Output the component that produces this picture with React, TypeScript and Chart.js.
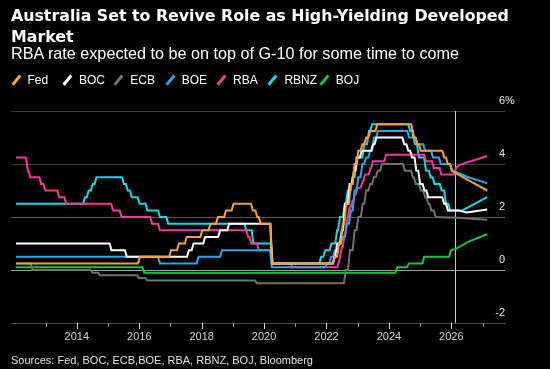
import React, { useEffect, useRef } from "react";
import { Chart, registerables } from "chart.js";

Chart.register(...registerables);

const TITLE_LINE_1 = "Australia Set to Revive Role as High-Yielding Developed";
const TITLE_LINE_2 = "Market";
const SUBTITLE = "RBA rate expected to be on top of G-10 for some time to come";
const SOURCE = "Sources: Fed, BOC, ECB,BOE, RBA, RBNZ, BOJ, Bloomberg";

const SERIES_NAMES = ["Fed", "BOC", "ECB", "BOE", "RBA", "RBNZ", "BOJ"];
const SERIES_COLORS = ["#f7a034", "#ffffff", "#707070", "#2aa6e6", "#ef3a9c", "#1fd3e3", "#1dbf45"];

const X_MIN = 2011.89;
const X_MAX = 2027.72;
const YEAR_TICKS = [2013, 2014, 2015, 2016, 2017, 2018, 2019, 2020, 2021, 2022, 2023, 2024, 2025, 2026, 2027];
const Y_TICKS = [-2, 0, 2, 4, 6];
const Y_TOP_SUFFIX = "%";
const TODAY = 2026.12;

// [date, new rate] at each policy change
const FED_STEPS = [
  [2012.05, 0.25], [2015.96, 0.5], [2016.96, 0.75], [2017.21, 1.0], [2017.46, 1.25], [2017.96, 1.5],
  [2018.22, 1.75], [2018.46, 2.0], [2018.72, 2.25], [2018.96, 2.5], [2019.58, 2.25], [2019.72, 2.0],
  [2019.83, 1.75], [2020.2, 0.25], [2022.21, 0.5], [2022.34, 1.0], [2022.46, 1.75], [2022.57, 2.5],
  [2022.72, 3.25], [2022.84, 4.0], [2022.96, 4.5], [2023.09, 4.75], [2023.21, 5.0], [2023.34, 5.25],
  [2023.57, 5.5], [2024.72, 5.0], [2024.85, 4.75], [2024.96, 4.5], [2025.71, 4.25], [2025.83, 4.0],
  [2025.96, 3.75],
];
const FED_FORECAST = [[2026.1, 3.68], [2026.6, 3.35], [2027.15, 3.0]];

const BOC_STEPS = [
  [2012.05, 1.0], [2015.05, 0.75], [2015.54, 0.5], [2017.53, 0.75], [2017.68, 1.0], [2018.05, 1.25],
  [2018.53, 1.5], [2018.82, 1.75], [2020.2, 0.25], [2022.2, 0.5], [2022.28, 1.0], [2022.43, 1.5],
  [2022.53, 2.5], [2022.68, 3.25], [2022.82, 3.75], [2022.93, 4.25], [2023.07, 4.5], [2023.43, 4.75],
  [2023.54, 5.0], [2024.43, 4.75], [2024.56, 4.5], [2024.68, 4.25], [2024.82, 3.75], [2024.94, 3.25],
  [2025.08, 3.0], [2025.2, 2.75], [2025.71, 2.5], [2025.83, 2.25],
];
const BOC_FORECAST = [[2026.2, 2.25], [2026.5, 2.17], [2027.15, 2.28]];

const ECB_STEPS = [
  [2012.05, 0.25], [2012.52, 0.0], [2014.44, -0.1], [2014.68, -0.2], [2015.93, -0.3], [2016.2, -0.4],
  [2019.71, -0.5], [2022.56, 0.0], [2022.69, 0.75], [2022.84, 1.5], [2022.96, 2.0], [2023.1, 2.5],
  [2023.21, 3.0], [2023.34, 3.25], [2023.46, 3.5], [2023.58, 3.75], [2023.72, 4.0], [2024.45, 3.75],
  [2024.71, 3.5], [2024.8, 3.25], [2024.96, 3.0], [2025.1, 2.75], [2025.2, 2.5], [2025.3, 2.25],
  [2025.44, 2.0],
];
const ECB_FORECAST = [[2026.2, 1.97], [2027.15, 1.9]];

const BOE_STEPS = [
  [2012.05, 0.5], [2016.6, 0.25], [2017.84, 0.5], [2018.59, 0.75], [2020.19, 0.1], [2021.96, 0.25],
  [2022.09, 0.5], [2022.21, 0.75], [2022.34, 1.0], [2022.46, 1.25], [2022.59, 1.75], [2022.72, 2.25],
  [2022.84, 3.0], [2022.96, 3.5], [2023.09, 4.0], [2023.21, 4.25], [2023.34, 4.5], [2023.46, 5.0],
  [2023.59, 5.25], [2024.59, 5.0], [2024.85, 4.75], [2025.1, 4.5], [2025.35, 4.25], [2025.6, 4.0],
  [2025.96, 3.75],
];
const BOE_FORECAST = [[2026.12, 3.72], [2026.5, 3.52], [2027.15, 3.27]];

const RBA_STEPS = [
  [2012.05, 4.25], [2012.37, 3.75], [2012.45, 3.5], [2012.8, 3.25], [2012.93, 3.0], [2013.37, 2.75],
  [2013.6, 2.5], [2015.1, 2.25], [2015.37, 2.0], [2016.35, 1.75], [2016.6, 1.5], [2019.43, 1.25],
  [2019.53, 1.0], [2019.77, 0.75], [2020.22, 0.25], [2020.85, 0.1], [2022.35, 0.35], [2022.43, 0.85],
  [2022.52, 1.35], [2022.6, 1.85], [2022.68, 2.35], [2022.77, 2.6], [2022.85, 2.85], [2022.93, 3.1],
  [2023.1, 3.35], [2023.18, 3.6], [2023.35, 3.85], [2023.43, 4.1], [2023.85, 4.35], [2025.13, 4.1],
  [2025.38, 3.85], [2025.62, 3.6], [2026.09, 3.85],
];
const RBA_FORECAST = [[2026.25, 3.96], [2027.15, 4.3]];

const RBNZ_STEPS = [
  [2012.05, 2.5], [2014.2, 2.75], [2014.32, 3.0], [2014.45, 3.25], [2014.57, 3.5], [2015.45, 3.25],
  [2015.57, 3.0], [2015.7, 2.75], [2015.95, 2.5], [2016.2, 2.25], [2016.6, 2.0], [2016.87, 1.75],
  [2019.37, 1.5], [2019.6, 1.0], [2020.22, 0.25], [2021.77, 0.5], [2021.9, 0.75], [2022.1, 1.0],
  [2022.28, 1.5], [2022.37, 2.0], [2022.53, 2.5], [2022.62, 3.0], [2022.77, 3.5], [2022.9, 4.25],
  [2023.15, 4.75], [2023.3, 5.25], [2023.4, 5.5], [2024.62, 5.25], [2024.77, 4.75], [2024.9, 4.25],
  [2025.13, 3.75], [2025.28, 3.5], [2025.4, 3.25], [2025.63, 3.0], [2025.77, 2.5], [2025.9, 2.25],
];
const RBNZ_FORECAST = [[2026.35, 2.25], [2026.6, 2.4], [2027.15, 2.75]];

const BOJ_STEPS = [
  [2012.05, 0.1], [2016.1, -0.1], [2024.21, 0.1], [2024.58, 0.25], [2025.07, 0.5], [2025.93, 0.75],
];
const BOJ_FORECAST = [[2026.12, 0.78], [2026.55, 1.07], [2027.15, 1.35]];

const SERIES_STEPS = [FED_STEPS, BOC_STEPS, ECB_STEPS, BOE_STEPS, RBA_STEPS, RBNZ_STEPS, BOJ_STEPS];
const SERIES_FORECASTS = [FED_FORECAST, BOC_FORECAST, ECB_FORECAST, BOE_FORECAST, RBA_FORECAST, RBNZ_FORECAST, BOJ_FORECAST];

const RAMP = 0.06;

function buildPoints(steps: number[][], forecast: number[][]) {
  const pts: { x: number; y: number }[] = [];
  steps.forEach(([x, y], i) => {
    if (i === 0) {
      pts.push({ x, y });
      return;
    }
    pts.push({ x, y: steps[i - 1][1] });
    pts.push({ x: x + RAMP, y });
  });
  forecast.forEach(([x, y]) => pts.push({ x, y }));
  return pts;
}

const decorPlugin = {
  id: "decor",
  beforeDatasetsDraw(chart: any) {
    const { ctx, chartArea, scales } = chart;
    const px = Math.round(scales.x.getPixelForValue(TODAY)) + 0.5;
    ctx.save();
    ctx.strokeStyle = "#c8c8c8";
    ctx.lineWidth = 1;
    ctx.beginPath();
    ctx.moveTo(px, chartArea.top);
    ctx.lineTo(px, chartArea.bottom);
    ctx.stroke();
    ctx.restore();
  },
  afterDraw(chart: any) {
    const { ctx, chartArea, scales } = chart;
    ctx.save();
    ctx.lineWidth = 1;
    YEAR_TICKS.forEach((v) => {
      const major = v % 2 === 0;
      const px = Math.round(scales.x.getPixelForValue(v)) + 0.5;
      ctx.strokeStyle = major ? "#d8d8d8" : "#8a8a8a";
      ctx.beginPath();
      ctx.moveTo(px, chartArea.bottom);
      ctx.lineTo(px, chartArea.bottom + (major ? 6 : 4));
      ctx.stroke();
    });
    // right-hand value labels, sitting just above their grid lines
    ctx.font = '11px "Liberation Sans"';
    ctx.fillStyle = "#e6e6e6";
    ctx.textBaseline = "middle";
    Y_TICKS.forEach((v) => {
      const py = scales.y.getPixelForValue(v) - 10;
      ctx.textAlign = "right";
      ctx.fillText(String(v), chartArea.right, py);
      if (v === Y_TICKS[Y_TICKS.length - 1]) {
        ctx.textAlign = "left";
        ctx.fillText(Y_TOP_SUFFIX, chartArea.right, py);
      }
    });
    ctx.restore();
  },
};

function LegendIcon({ color }: { color: string }) {
  return (
    <span style={{ position: "relative", display: "inline-block", width: 9, height: 10, marginRight: 7.5 }}>
      <span
        style={{
          position: "absolute",
          left: 3.5,
          top: -1,
          width: 2.5,
          height: 12,
          background: color,
          transform: "rotate(40deg)",
        }}
      />
    </span>
  );
}

export default function App() {
  const canvasRef = useRef<HTMLCanvasElement | null>(null);

  useEffect(() => {
    document.body.style.margin = "0";
    document.body.style.background = "#000";
    const canvas = canvasRef.current;
    if (!canvas) return;
    const chart = new Chart(canvas, {
      type: "line",
      data: {
        datasets: SERIES_NAMES.map((name, i) => ({
          label: name,
          data: buildPoints(SERIES_STEPS[i], SERIES_FORECASTS[i]),
          borderColor: SERIES_COLORS[i],
          backgroundColor: SERIES_COLORS[i],
          borderWidth: 2,
          pointRadius: 0,
          tension: 0,
          fill: false,
        })),
      },
      options: {
        animation: false,
        responsive: false,
        devicePixelRatio: 1,
        layout: { padding: { left: 11, top: 111, right: 0, bottom: 0 } },
        plugins: { legend: { display: false }, tooltip: { enabled: false }, title: { display: false } },
        scales: {
          x: {
            type: "linear",
            min: X_MIN,
            max: X_MAX,
            afterBuildTicks: (s: any) => {
              s.ticks = YEAR_TICKS.map((v) => ({ value: v }));
            },
            afterFit: (s: any) => {
              s.height = 46;
            },
            grid: { display: false, drawTicks: false },
            border: { display: true, color: "#444444", width: 1 },
            ticks: {
              autoSkip: false,
              maxRotation: 0,
              padding: 7,
              color: "#d4d4d4",
              font: { family: "Liberation Sans", size: 11 },
              callback: (v: any) => (Number(v) % 2 === 0 ? String(v) : ""),
            },
          },
          y: {
            type: "linear",
            position: "right",
            min: -2,
            max: 6,
            afterBuildTicks: (s: any) => {
              s.ticks = Y_TICKS.map((v) => ({ value: v }));
            },
            afterFit: (s: any) => {
              s.width = 45;
            },
            grid: {
              drawTicks: false,
              lineWidth: 1,
              color: (c: any) => {
                const v = c.tick && c.tick.value;
                if (v === 0) return "#a0a0a0";
                if (v === 2) return "#555555";
                if (v === -2) return "#444444";
                return "#3a3a3a";
              },
            },
            border: { display: false },
            ticks: { display: false },
          },
        },
      },
      plugins: [decorPlugin],
    } as any);
    return () => chart.destroy();
  }, []);

  return (
    <div style={{ position: "relative", width: 550, height: 369, background: "#000", overflow: "hidden" }}>
      <canvas ref={canvasRef} width={550} height={369} style={{ position: "absolute", left: 0, top: 0, width: 550, height: 369 }} />
      <div
        style={{
          position: "absolute",
          left: 11,
          top: 5,
          fontFamily: '"DejaVu Sans"',
          fontWeight: "bold",
          fontSize: 15.8,
          lineHeight: "21px",
          color: "#fff",
          whiteSpace: "nowrap",
        }}
      >
        {TITLE_LINE_1}
        <br />
        {TITLE_LINE_2}
      </div>
      <div
        style={{
          position: "absolute",
          left: 11,
          top: 44,
          fontFamily: '"Liberation Sans"',
          fontSize: 16.2,
          lineHeight: "18px",
          color: "#fff",
          whiteSpace: "nowrap",
        }}
      >
        {SUBTITLE}
      </div>
      <div style={{ position: "absolute", left: 11, top: 73, height: 14, display: "flex", alignItems: "center" }}>
        {SERIES_NAMES.map((name, i) => (
          <div key={name} style={{ width: 51.4, display: "flex", alignItems: "center", whiteSpace: "nowrap" }}>
            <LegendIcon color={SERIES_COLORS[i]} />
            <span style={{ fontFamily: '"Liberation Sans"', fontSize: 12, color: "#fff", lineHeight: "14px" }}>{name}</span>
          </div>
        ))}
      </div>
      <div
        style={{
          position: "absolute",
          left: 11,
          top: 354,
          fontFamily: '"Liberation Sans"',
          fontSize: 11,
          lineHeight: "13px",
          color: "#e0e0e0",
          whiteSpace: "nowrap",
        }}
      >
        {SOURCE}
      </div>
    </div>
  );
}
